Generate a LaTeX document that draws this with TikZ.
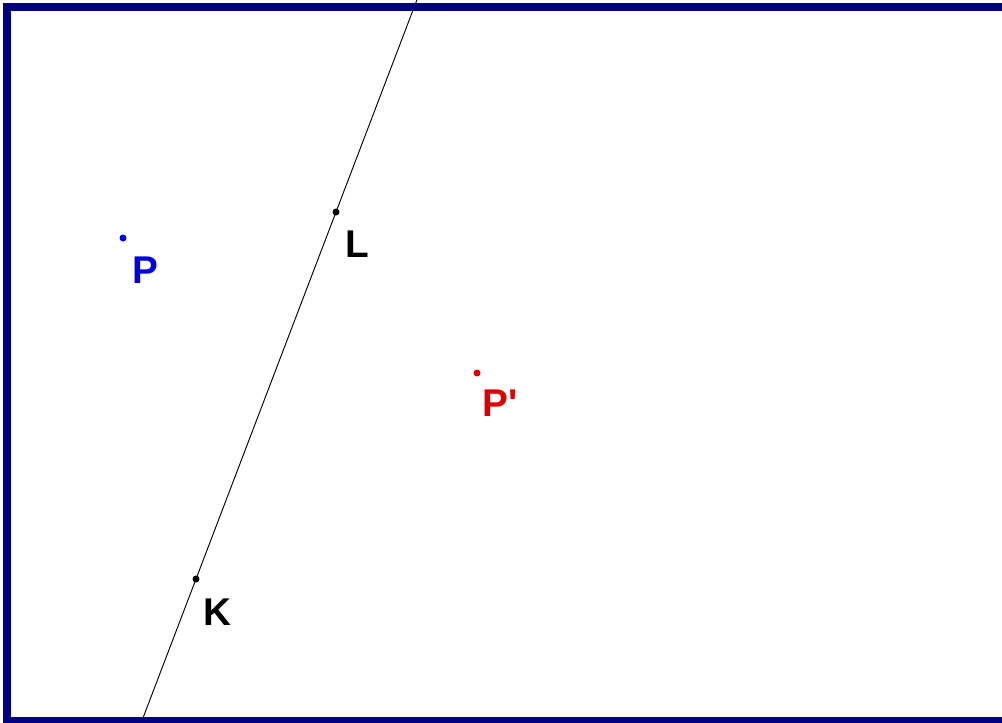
\documentclass[tikz,border=0pt]{standalone}
\usepackage{fontspec}
\setmainfont{Liberation Sans}
\usetikzlibrary{calc}
\definecolor{framenavy}{RGB}{0,0,128}
\definecolor{ptblue}{RGB}{0,0,225}
\definecolor{ptred}{RGB}{220,0,0}
\tikzset{
  ptlabel/.style={inner sep=0pt,anchor=base,font=\bfseries\fontsize{29}{29}\selectfont},
  ptdot/.style={radius=3.5}
}
\begin{document}
\begin{tikzpicture}[x=0.75pt,y=-0.75pt]
\useasboundingbox (0,0) rectangle (1002,722);
\fill[white] (0,0) rectangle (1002,722);
% the points
\coordinate (L) at (336,212);
\coordinate (K) at (196,579);
\coordinate (P) at (123,238);
\coordinate (Pp) at (477,373);
% line through K and L
\draw[line width=0.7pt] ($(K)!-0.45!(L)$) -- ($(L)!-0.6!(K)$);
\fill (L) circle[ptdot];
\fill (K) circle[ptdot];
\fill[ptblue] (P) circle[ptdot];
\fill[ptred] (Pp) circle[ptdot];
\node[ptlabel] (Ltext) at (357,257) {L};
\node[ptlabel] (Ktext) at (217,625) {K};
\node[ptlabel,text=ptblue] (Ptext) at (145,283) {P};
\node[ptlabel,text=ptred] (Pptext) at (500,416) {P\textquotesingle};
% frame
\draw[framenavy,line width=6pt] (7,7) rectangle (1015,721);
\end{tikzpicture}
\end{document}
